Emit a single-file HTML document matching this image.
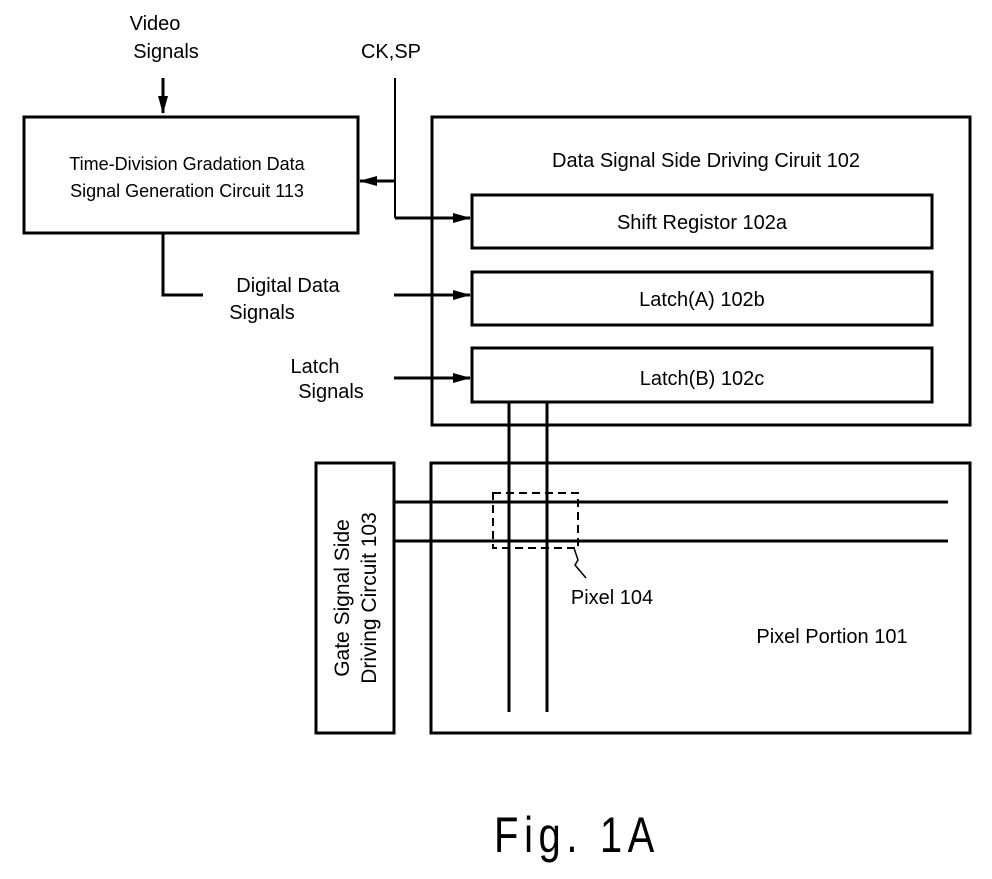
<!DOCTYPE html>
<html><head><style>
html,body{margin:0;padding:0;background:#fff;}
svg text{font-family:"Liberation Sans",sans-serif;fill:#000;}
</style></head><body>
<svg width="992" height="874" viewBox="0 0 992 874" xmlns="http://www.w3.org/2000/svg">
<defs>
<marker id="ar" markerWidth="18" markerHeight="10" refX="17" refY="5" orient="auto" markerUnits="userSpaceOnUse">
<path d="M0,0 L18,5 L0,10 Z" fill="#000"/></marker>
</defs>
<g stroke="#000" stroke-width="3" fill="none">
<rect x="24" y="117" width="334" height="116"/>
<rect x="432" y="117" width="538" height="308"/>
<rect x="472" y="195" width="460" height="53"/>
<rect x="472" y="272" width="460" height="53"/>
<rect x="472" y="348" width="460" height="54"/>
<rect x="316" y="463" width="78" height="270"/>
<rect x="431" y="463" width="539" height="270"/>
<line x1="163" y1="78" x2="163" y2="113" marker-end="url(#ar)"/>
<line x1="395" y1="78" x2="395" y2="218" stroke-width="2"/>
<line x1="395" y1="218" x2="470" y2="218" marker-end="url(#ar)"/>
<line x1="395" y1="181" x2="360" y2="181" marker-end="url(#ar)"/>
<polyline points="163,233 163,295 203,295"/>
<line x1="394" y1="295" x2="470" y2="295" marker-end="url(#ar)"/>
<line x1="394" y1="378" x2="470" y2="378" marker-end="url(#ar)"/>
<line x1="509" y1="402" x2="509" y2="712"/>
<line x1="547" y1="402" x2="547" y2="712"/>
<line x1="394" y1="502" x2="948" y2="502"/>
<line x1="394" y1="541" x2="948" y2="541"/>
<rect x="493" y="493" width="85" height="55" stroke-width="2" stroke-dasharray="8,5"/>
<polyline points="574,548 578,560 575,565 586,578" stroke-width="1.5"/>
</g>
<g font-size="20">
<text x="155" y="30" text-anchor="middle">Video</text>
<text x="166" y="58" text-anchor="middle">Signals</text>
<text x="391" y="58" text-anchor="middle">CK,SP</text>
<text x="187" y="170" text-anchor="middle" font-size="18">Time-Division Gradation Data</text>
<text x="187" y="197" text-anchor="middle" font-size="18">Signal Generation Circuit 113</text>
<text x="706" y="167" text-anchor="middle">Data Signal Side Driving Ciruit 102</text>
<text x="702" y="229" text-anchor="middle">Shift Registor 102a</text>
<text x="702" y="306" text-anchor="middle">Latch(A) 102b</text>
<text x="702" y="385" text-anchor="middle">Latch(B) 102c</text>
<text x="288" y="292" text-anchor="middle">Digital Data</text>
<text x="262" y="319" text-anchor="middle">Signals</text>
<text x="315" y="373" text-anchor="middle">Latch</text>
<text x="331" y="398" text-anchor="middle">Signals</text>
<text x="612" y="604" text-anchor="middle">Pixel 104</text>
<text x="832" y="643" text-anchor="middle">Pixel Portion 101</text>
<text transform="translate(356,598) rotate(-90)" text-anchor="middle" x="0" y="-7" font-size="21">Gate Signal Side</text>
<text transform="translate(356,598) rotate(-90)" text-anchor="middle" x="0" y="20" font-size="21">Driving Circuit 103</text>
</g>
<text x="577" y="852" text-anchor="middle" font-size="50" transform="translate(577,0) scale(0.8,1) translate(-577,0)" style="letter-spacing:7px">Fig. 1A</text>
</svg>
</body></html>
